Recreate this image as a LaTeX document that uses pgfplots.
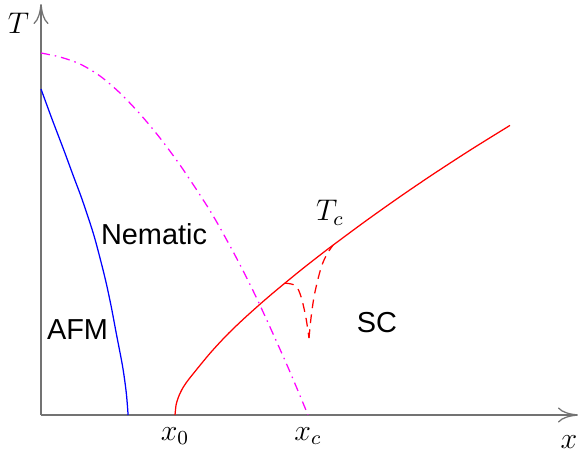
\documentclass[border=0pt]{standalone}
\usepackage{fontspec}
\setmainfont{Liberation Sans}
\usepackage{pgfplots}
\pgfplotsset{compat=1.18}
\usetikzlibrary{arrows.meta}
\definecolor{mag}{RGB}{255,0,255}
\definecolor{rd}{RGB}{255,0,0}
\definecolor{bl}{RGB}{0,0,255}

\pgfplotstableread{
x y
0 326
11 296
22.8 265
32 240
41.3 215
52.2 182
59 157
65.2 132
70.5 107
75.2 82
81.7 48
85.3 22
87.1 0
}\afm

\pgfplotstableread{
x y
0 362
19 358
39 351
59 339
79 322
99 301
119 277
139 250
159 220
174 196
196 156
217 114
246 50
267 0
}\nem

\pgfplotstableread{
x y
134 0
135 9.7
136 13.7
138 19.3
141 25.6
145 32
152 41
169 61.7
186 80.1
202 95.5
219 110.8
232 122
246 133.6
262 146.6
279 159.9
292 169.8
325 194.2
359 218.3
392 240.7
430 265.4
469 289.6
}\tc

\pgfplotstableread{
x y
244 131.9
252 130.5
257 126
261 115
265 97
268 77
}\dipl

\pgfplotstableread{
x y
268 77
270 97
273 118
277 136
281 150
286 161
292 169.8
}\dipr

\begin{document}
\begin{tikzpicture}
\useasboundingbox (-16.4bp,-16.8bp) rectangle (214.8bp,166bp);
\begin{axis}[
  x=0.4bp, y=0.4bp,
  xmin=0, xmax=537, ymin=0, ymax=411,
  enlargelimits=false,
  axis lines=left,
  axis line style={black!55, line width=0.5bp, -{To[length=8bp,width=6bp]}},
  xtick={134,267}, xticklabels={$x_0$,$x_c$},
  ytick=\empty,
  major tick length=0pt,
  xticklabel style={font=\fontsize{12}{14}\selectfont, yshift=-1.5bp},
  clip=false,
]
\addplot[bl, line width=0.5bp, smooth] table {\afm};
\addplot[mag, line width=0.5bp, smooth, dash pattern=on 3.6bp off 2bp on 0.6bp off 2bp] table {\nem};
\addplot[rd, line width=0.5bp, smooth] table {\tc};
\addplot[rd, line width=0.5bp, smooth, dash pattern=on 3.5bp off 2.5bp] table {\dipl};
\addplot[rd, line width=0.5bp, smooth, dash pattern=on 3.5bp off 2.5bp] table {\dipr};

\node[font=\fontsize{12}{14}\selectfont] at (axis cs:-22.5,391.5) {$T$};
\node[font=\fontsize{12}{14}\selectfont] at (axis cs:528,-27) {$x$};
\node[font=\fontsize{12}{14}\selectfont] at (axis cs:289,202) {$T_c$};
\node[font=\fontsize{11.6}{14}\selectfont] at (axis cs:113,181) {Nematic};
\node[font=\fontsize{11.6}{14}\selectfont] at (axis cs:36.5,85) {AFM};
\node[font=\fontsize{11.6}{14}\selectfont] at (axis cs:336,92) {SC};
\end{axis}
\end{tikzpicture}
\end{document}
